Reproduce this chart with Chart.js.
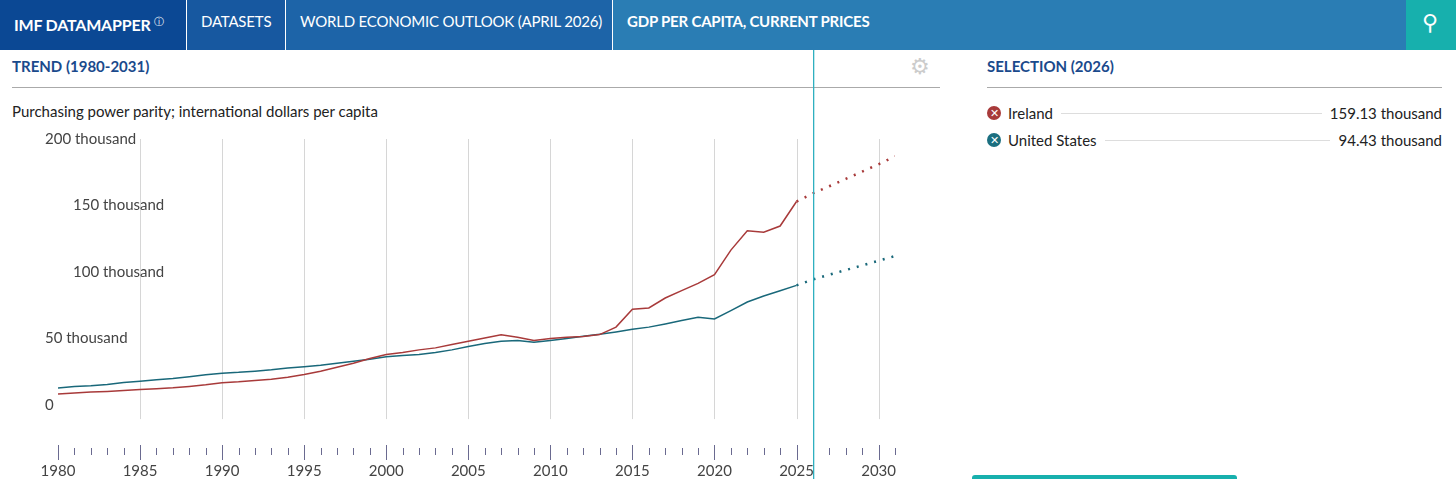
<!DOCTYPE html>
<html><head><meta charset="utf-8">
<script src="https://cdn.jsdelivr.net/npm/chart.js@4"></script>
<style>
body{margin:0;width:1456px;height:479px;overflow:hidden;font-family:Lato,"Open Sans",sans-serif;background:#fff;position:relative}
.hd{position:absolute;top:0;height:50px;color:#fff;font-size:15px;line-height:43px;box-sizing:border-box;padding-left:14px;letter-spacing:-0.2px}
.a{position:absolute}
</style></head><body>
<div class="hd" style="left:0;width:186px;background:#0b4894;font-weight:bold;font-size:16px">IMF DATAMAPPER <sup style="font-size:10px;font-weight:normal">ⓘ</sup></div>
<div class="hd" style="left:187px;width:98px;background:#1758a0;">DATASETS</div>
<div class="hd" style="left:286px;width:326px;background:#1d64a8;">WORLD ECONOMIC OUTLOOK (APRIL 2026)</div>
<div class="hd" style="left:613px;width:793px;background:#2a7db4;font-weight:bold;">GDP PER CAPITA, CURRENT PRICES</div>
<div class="hd" style="left:1406px;width:50px;background:#17b0ad;font-size:22px;padding-left:16px">⚲</div>
<div class="a" style="left:12px;top:57px;font-size:15px;font-weight:bold;color:#1a4a8c">TREND (1980-2031)</div>
<div class="a" style="left:12px;top:87px;width:928px;border-top:1px solid #aaa"></div>
<div class="a" style="left:910px;top:52px;font-size:22px;color:#ccc">⚙</div>
<div class="a" style="left:12px;top:102px;font-size:15px;color:#222">Purchasing power parity; international dollars per capita</div>
<div class="a" style="left:987px;top:57px;font-size:15px;font-weight:bold;color:#1a4a8c">SELECTION (2026)</div>
<div class="a" style="left:987px;top:87px;width:455px;border-top:1px solid #aaa"></div>
<div class="a" style="left:987px;top:104px;width:455px;font-size:15px;color:#222;display:flex;align-items:center">
<span style="display:inline-block;width:14px;height:14px;border-radius:7px;background:#a83a3a;color:#fff;font-size:11px;line-height:14px;text-align:center;margin-right:7px">✕</span>Ireland<span style="flex:1;border-top:1px solid #ddd;margin:0 8px"></span>159.13 thousand</div>
<div class="a" style="left:987px;top:131px;width:455px;font-size:15px;color:#222;display:flex;align-items:center">
<span style="display:inline-block;width:14px;height:14px;border-radius:7px;background:#1b6f80;color:#fff;font-size:11px;line-height:14px;text-align:center;margin-right:7px">✕</span>United States<span style="flex:1;border-top:1px solid #ddd;margin:0 8px"></span>94.43 thousand</div>
<div class="a" style="left:972px;top:475px;width:265px;height:8px;background:#17b0ad;border-radius:3px"></div>
<div class="a" style="left:0;top:50px;width:950px;height:429px"><canvas id="c"></canvas></div>
<script>
const years=[1980,1981,1982,1983,1984,1985,1986,1987,1988,1989,1990,1991,1992,1993,1994,1995,1996,1997,1998,1999,2000,2001,2002,2003,2004,2005,2006,2007,2008,2009,2010,2011,2012,2013,2014,2015,2016,2017,2018,2019,2020,2021,2022,2023,2024,2025,2026,2027,2028,2029,2030,2031];
const ireland=[8.3,9.0,9.8,10.3,11.0,11.8,12.3,13.0,14.0,15.2,16.8,17.5,18.5,19.5,21.0,23.0,25.5,28.5,31.5,35.0,38.0,39.5,41.5,43.0,45.5,48.0,50.5,52.8,51.0,48.5,50.0,51.0,51.5,53.0,58.6,72.0,73.0,80.5,86.0,91.5,98.0,116.5,131.0,130.0,134.6,153.0,159.13,164.5,170.0,175.5,181.0,187.0];
const usa=[12.8,14.0,14.5,15.5,17.0,18.0,19.0,20.0,21.3,22.8,24.0,24.6,25.5,26.5,27.8,28.8,30.0,31.5,33.0,34.5,36.3,37.2,38.0,39.5,41.5,44.0,46.3,48.0,48.5,47.2,48.6,50.0,51.8,53.2,55.0,57.0,58.6,61.0,63.5,66.0,64.7,71.0,77.5,82.0,86.0,90.0,94.43,98.0,101.5,105.0,108.5,112.0];
const xLabels=[1980,1985,1990,1995,2000,2005,2010,2015,2020,2025,2030];
const yLabels=[[200,"200 thousand",45],[150,"150 thousand",73],[100,"100 thousand",73],[50,"50 thousand",45],[0,"0",45]];
const lastActual=2025, selYear=2026;
const segDash=c=>c.p0.parsed.x>=lastActual?[2,7]:undefined;
const segWidth=c=>c.p0.parsed.x>=lastActual?2.5:1.5;
const deco={id:'deco',
 beforeDatasetsDraw(ch){const x=ch.scales.x,y=ch.scales.y,ctx=ch.ctx;ctx.save();
  ctx.strokeStyle='#d6d6d6';ctx.lineWidth=1;
  for(let v=1985;v<=2030;v+=5){const px=Math.round(x.getPixelForValue(v))+.5;ctx.beginPath();ctx.moveTo(px,y.getPixelForValue(200));ctx.lineTo(px,y.getPixelForValue(0)+14);ctx.stroke();}
  ctx.strokeStyle='#6a6a90';
  for(const v of years){const px=Math.round(x.getPixelForValue(v))+.5;const maj=v%5===0;ctx.beginPath();ctx.moveTo(px,maj?395:398);ctx.lineTo(px,maj?410:405);ctx.stroke();}
  ctx.font='15px Lato';ctx.fillStyle='#444';ctx.textBaseline='middle';
  for(const [v,t,lx] of yLabels){ctx.fillText(t,lx,y.getPixelForValue(v));}
  ctx.textAlign='center';
  for(const v of xLabels){ctx.fillText(String(v),x.getPixelForValue(v),421);}
  ctx.restore();},
 afterDatasetsDraw(ch){const ctx=ch.ctx,px=Math.round(ch.scales.x.getPixelForValue(selYear));ctx.save();ctx.fillStyle='#2fb0c0';ctx.fillRect(px,0,1.3,ch.height);ctx.restore();}
};
new Chart(document.getElementById('c'),{
 type:'line',
 data:{datasets:[
  {data:years.map((yr,i)=>({x:yr,y:ireland[i]})),borderColor:'#a83a3a',pointRadius:0,borderWidth:1.5,segment:{borderDash:segDash,borderWidth:segWidth}},
  {data:years.map((yr,i)=>({x:yr,y:usa[i]})),borderColor:'#19687a',pointRadius:0,borderWidth:1.5,segment:{borderDash:segDash,borderWidth:segWidth}}
 ]},
 options:{responsive:true,maintainAspectRatio:false,animation:false,
  layout:{padding:{left:58,right:55,top:89,bottom:34}},
  plugins:{legend:{display:false},tooltip:{enabled:false}},
  scales:{
   x:{type:'linear',min:1980,max:2031,display:false},
   y:{min:-30,max:200,display:false}
  }
 },
 plugins:[deco]
});
</script></body></html>
